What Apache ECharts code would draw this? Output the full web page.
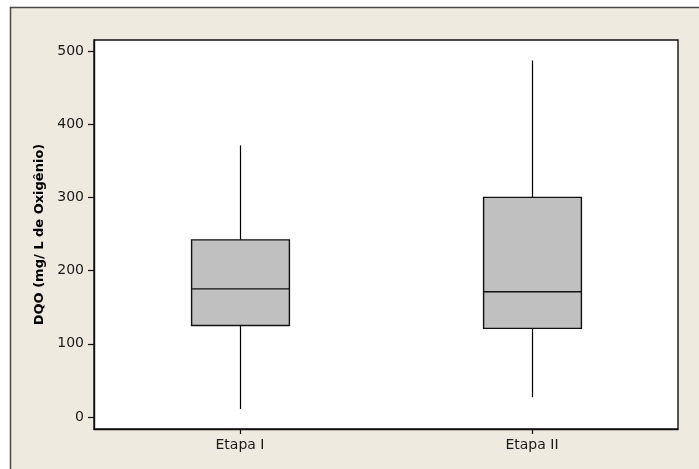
<!DOCTYPE html>
<html>
<head>
<meta charset="utf-8">
<script src="https://cdn.jsdelivr.net/npm/echarts@6/dist/echarts.min.js"></script>
<style>
html, body { margin: 0; padding: 0; background: #fff; }
#main { width: 699px; height: 469px; }
</style>
</head>
<body>
<div id="main"></div>
<script>
// values
var categories = ['Etapa I', 'Etapa II'];
var lows = [11, 27];
var q1s = [125, 121];
var medians = [175, 171];
var q3s = [242, 300];
var highs = [371, 487];
var yTicks = [0, 100, 200, 300, 400, 500];

var boxData = categories.map(function (c, i) {
	return [i, lows[i], q1s[i], medians[i], q3s[i], highs[i]];
});

var chart = echarts.init(document.getElementById('main'));

function renderBox(params, api) {
	var x = api.value(0);
	var pLow = api.coord([x, api.value(1)]);
	var pQ1 = api.coord([x, api.value(2)]);
	var pMed = api.coord([x, api.value(3)]);
	var pQ3 = api.coord([x, api.value(4)]);
	var pHigh = api.coord([x, api.value(5)]);
	var w = api.size([1, 0])[0] * 0.335;
	var cx = Math.round(pMed[0]) + 0.5;
	var line = { stroke: '#000', lineWidth: 1.2 };
	return {
		type: 'group',
		children: [
			{ type: 'line', shape: { x1: cx, y1: pHigh[1], x2: cx, y2: pQ3[1] }, style: line },
			{ type: 'line', shape: { x1: cx, y1: pQ1[1], x2: cx, y2: pLow[1] }, style: line },
			{ type: 'rect', shape: { x: cx - w / 2, y: pQ3[1], width: w, height: pQ1[1] - pQ3[1] },
				style: { fill: '#C0C0C0', stroke: '#111', lineWidth: 1.4 } },
			{ type: 'line', shape: { x1: cx - w / 2, y1: pMed[1], x2: cx + w / 2, y2: pMed[1] },
				style: { stroke: '#111', lineWidth: 1.4 } }
		]
	};
}

var option = {
	backgroundColor: '#fff',
	animation: false,
	textStyle: { fontFamily: 'DejaVu Sans' },
	graphic: [{
		type: 'rect',
		z: -10,
		shape: { x: 10.5, y: 7.5, width: 1000, height: 1000 },
		style: { fill: '#EEEAE0', stroke: '#4a4a4a', lineWidth: 1.5 }
	}],
	grid: {
		left: 94, top: 40, right: 21, bottom: 40,
		show: true,
		backgroundColor: '#fff',
		borderColor: '#111',
		borderWidth: 1.4
	},
	xAxis: {
		type: 'category',
		data: categories,
		boundaryGap: true,
		axisLine: { show: true, onZero: false, lineStyle: { color: '#111', width: 1.4 } },
		axisTick: { show: true, alignWithLabel: true, length: 5, lineStyle: { color: '#111', width: 1.2 } },
		axisLabel: { color: '#1a1a1a', fontSize: 14, margin: 9 },
		splitLine: { show: false }
	},
	yAxis: {
		type: 'value',
		min: -16.4,
		max: 515,
		name: 'DQO (mg/ L de Oxigênio)',
		nameLocation: 'middle',
		nameGap: 40,
		nameTextStyle: { fontSize: 13, fontWeight: 'bold', color: '#000' },
		axisLine: { show: true, onZero: false, lineStyle: { color: '#111', width: 1.4 } },
		axisTick: { show: true, length: 6, customValues: yTicks, lineStyle: { color: '#111', width: 1.2 } },
		axisLabel: { color: '#1a1a1a', fontSize: 14, margin: 10, customValues: yTicks },
		splitLine: { show: false }
	},
	series: [{
		type: 'custom',
		renderItem: renderBox,
		encode: { x: 0, y: [1, 2, 3, 4, 5] },
		data: boxData
	}]
};

chart.setOption(option);
</script>
</body>
</html>
